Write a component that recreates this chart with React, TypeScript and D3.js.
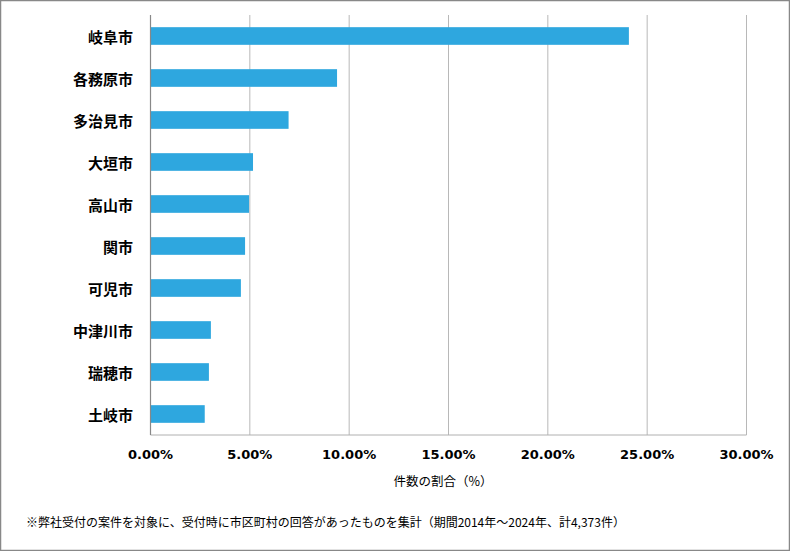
import React from "react";
import * as d3 from "d3";

const categories = ["岐阜市", "各務原市", "多治見市", "大垣市", "高山市", "関市", "可児市", "中津川市", "瑞穂市", "土岐市"];
const values = [24.08, 9.39, 6.95, 5.16, 4.96, 4.76, 4.55, 3.04, 2.94, 2.73];
const ticks = [0, 5, 10, 15, 20, 25, 30];
const axisTitle = "件数の割合（%）";
const footnote = "※弊社受付の案件を対象に、受付時に市区町村の回答があったものを集計（期間2014年～2024年、計4,373件）";

const W = 790, H = 551;
const left = 150.5, right = 746.5, top = 15, bottom = 435;

export default function App() {
  const x = d3.scaleLinear().domain([0, 30]).range([left, right]);
  const y = d3.scaleBand<string>().domain(categories).range([top, bottom]).paddingInner(0.58).paddingOuter(0.29);
  const jp = "'Noto Sans CJK JP', sans-serif";
  return (
    <svg width={W} height={H} style={{ position: "absolute", left: 0, top: 0 }}>
      <rect x={0.5} y={0.5} width={W - 1} height={H - 1} fill="#fff" stroke="#888" strokeWidth={1.5} />
      {ticks.slice(1).map(t => (
        <line key={t} x1={x(t)} x2={x(t)} y1={top} y2={bottom} stroke="#b8b8b8" strokeWidth={1} />
      ))}
      <line x1={left} x2={right} y1={bottom} y2={bottom} stroke="#b0b0b0" strokeWidth={1} />
      {categories.map((c, i) => (
        <rect key={c} x={x(0)} y={y(c)} width={x(values[i]) - x(0)} height={y.bandwidth()} fill="#2ea7df" />
      ))}
      <line x1={left} x2={left} y1={top} y2={bottom} stroke="#888" strokeWidth={1.2} />
      {categories.map(c => (
        <text key={c} x={133} y={(y(c) as number) + y.bandwidth() / 2} textAnchor="end" dominantBaseline="central"
          fontFamily={jp} fontWeight="bold" fontSize={15} fill="#000">{c}</text>
      ))}
      {ticks.map(t => (
        <text key={t} x={x(t)} y={454} textAnchor="middle" dominantBaseline="central"
          fontFamily="'DejaVu Sans', sans-serif" fontWeight="bold" fontSize={13} fill="#000">{t.toFixed(2) + "%"}</text>
      ))}
      <text x={443} y={480} textAnchor="middle" dominantBaseline="central" fontFamily={jp} fontSize={12.5} fill="#000">{axisTitle}</text>
      <text x={26} y={521} dominantBaseline="central" fontFamily={jp} fontSize={12} fill="#000">{footnote}</text>
    </svg>
  );
}
